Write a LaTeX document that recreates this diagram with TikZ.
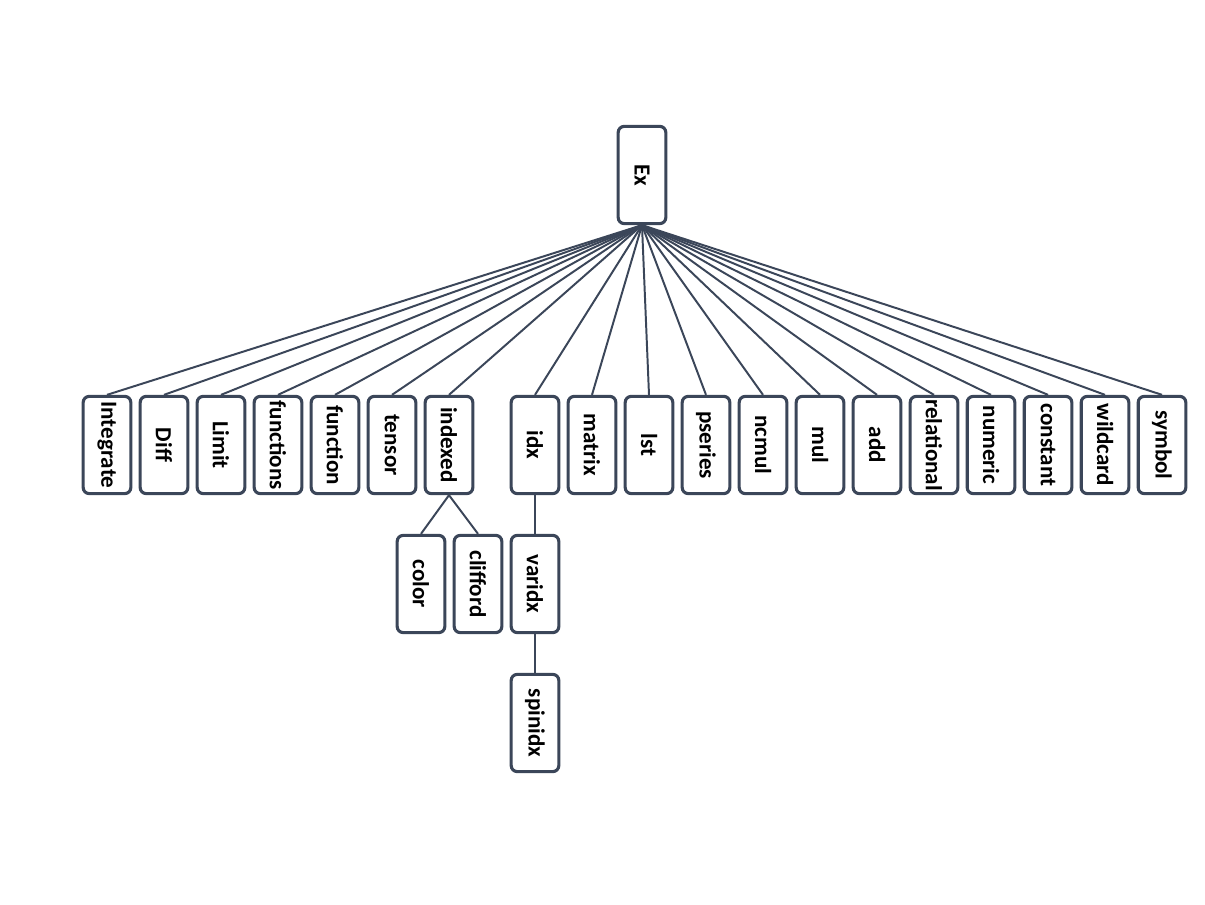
\documentclass[tikz,border=0pt]{standalone}
\usepackage{fontspec}
\setmainfont{Carlito}
\usetikzlibrary{positioning}
\definecolor{slate}{HTML}{3B4659}
\newcommand{\vtext}[1]{\rotatebox{-90}{#1}}

\begin{document}
\begin{tikzpicture}[x=0.025cm,y=-0.025cm,
  class node/.style={draw=slate,line width=2.2pt,rounded corners=1.5mm,fill=white,
    minimum width=1.19cm,minimum height=2.43cm,inner sep=0pt,
    font=\bfseries\fontsize{16.4}{19}\selectfont}]

  \useasboundingbox (0,0) rectangle (1205,905);

  \node[class node] (ex) at (642,175) {\vtext{Ex}};

  \node[class node] (integrate) at (107,445) {\vtext{Integrate}};
  \node[class node] (diff) at (164,445) {\vtext{Diff}};
  \node[class node] (limit) at (221,445) {\vtext{Limit}};
  \node[class node] (functions) at (278,445) {\vtext{functions}};
  \node[class node] (function) at (335,445) {\vtext{function}};
  \node[class node] (tensor) at (392,445) {\vtext{tensor}};
  \node[class node] (indexed) at (449,445) {\vtext{indexed}};
  \node[class node] (idx) at (535,445) {\vtext{idx}};
  \node[class node] (matrix) at (592,445) {\vtext{matrix}};
  \node[class node] (lst) at (649,445) {\vtext{lst}};
  \node[class node] (pseries) at (706,445) {\vtext{pseries}};
  \node[class node] (ncmul) at (763,445) {\vtext{ncmul}};
  \node[class node] (mul) at (820,445) {\vtext{mul}};
  \node[class node] (add) at (877,445) {\vtext{add}};
  \node[class node] (relational) at (934,445) {\vtext{relational}};
  \node[class node] (numeric) at (991,445) {\vtext{numeric}};
  \node[class node] (constant) at (1048,445) {\vtext{constant}};
  \node[class node] (wildcard) at (1105,445) {\vtext{wildcard}};
  \node[class node] (symbol) at (1162,445) {\vtext{symbol}};

  \node[class node] (color) at (421,584) {\vtext{color}};
  \node[class node] (clifford) at (478,584) {\vtext{clifford}};
  \node[class node] (varidx) at (535,584) {\vtext{varidx}};

  \node[class node] (spinidx) at (535,723) {\vtext{spinidx}};

  \path[every edge/.style={draw=slate,line width=1.4pt}]
    (ex.south) edge (integrate.north)
    (ex.south) edge (diff.north)
    (ex.south) edge (limit.north)
    (ex.south) edge (functions.north)
    (ex.south) edge (function.north)
    (ex.south) edge (tensor.north)
    (ex.south) edge (indexed.north)
    (ex.south) edge (idx.north)
    (ex.south) edge (matrix.north)
    (ex.south) edge (lst.north)
    (ex.south) edge (pseries.north)
    (ex.south) edge (ncmul.north)
    (ex.south) edge (mul.north)
    (ex.south) edge (add.north)
    (ex.south) edge (relational.north)
    (ex.south) edge (numeric.north)
    (ex.south) edge (constant.north)
    (ex.south) edge (wildcard.north)
    (ex.south) edge (symbol.north)
    (indexed.south) edge (color.north)
    (indexed.south) edge (clifford.north)
    (idx.south) edge (varidx.north)
    (varidx.south) edge (spinidx.north)
    ;
\end{tikzpicture}
\end{document}
